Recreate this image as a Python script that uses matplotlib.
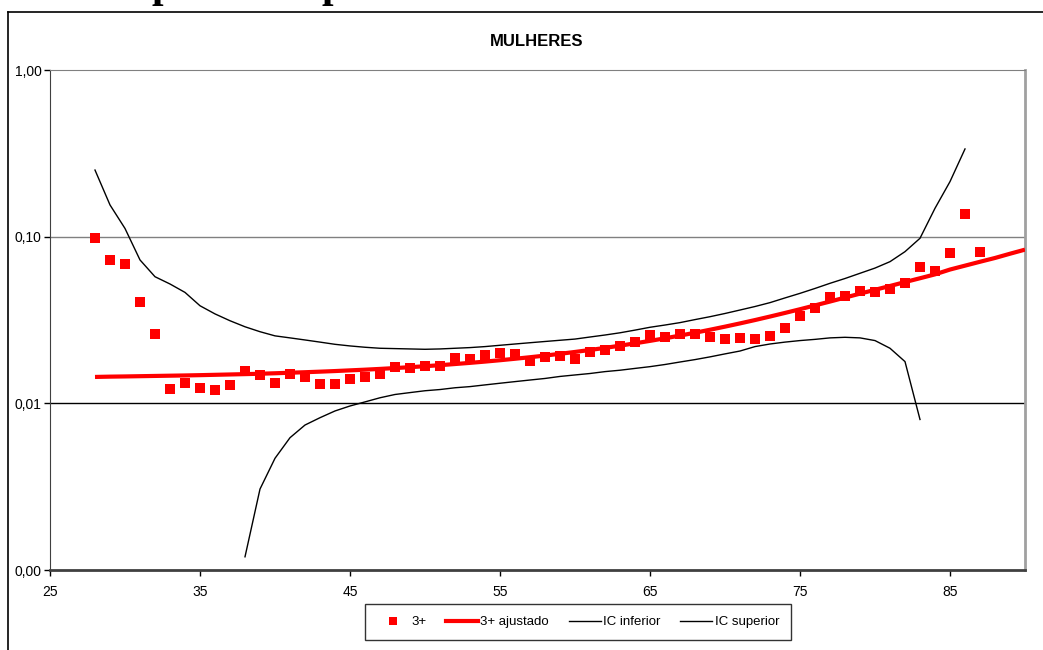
import matplotlib.pyplot as plt
from matplotlib.lines import Line2D
from matplotlib.ticker import FixedLocator, NullLocator

# Observed rates, ages 28-87
ages_obs = list(range(28, 88))
taxa_obs = [0.0986, 0.0725, 0.0683, 0.0407, 0.0262, 0.0122, 0.0132, 0.0124, 0.0121, 0.0129,
            0.0157, 0.0148, 0.0132, 0.0149, 0.0144, 0.0130, 0.0131, 0.0139, 0.0144, 0.0150,
            0.0166, 0.0163, 0.0167, 0.0168, 0.0188, 0.0184, 0.0194, 0.0200, 0.0198, 0.0180,
            0.0190, 0.0192, 0.0184, 0.0202, 0.0209, 0.0222, 0.0233, 0.0257, 0.0249, 0.0262,
            0.0261, 0.0249, 0.0242, 0.0247, 0.0243, 0.0254, 0.0283, 0.0334, 0.0373, 0.0434,
            0.0441, 0.0472, 0.0466, 0.0485, 0.0527, 0.0658, 0.0622, 0.0798, 0.1368, 0.0809]

# Fitted rates, ages 28-90
ages_fit = list(range(28, 91))
taxa_fit = [0.0144, 0.01446, 0.0145, 0.01455, 0.0146, 0.01465, 0.0147, 0.01476, 0.01483, 0.0149,
            0.01497, 0.01505, 0.01515, 0.01526, 0.01537, 0.01549, 0.01562, 0.01577, 0.01592, 0.01609,
            0.01628, 0.01648, 0.0167, 0.01694, 0.01721, 0.01749, 0.0178, 0.01814, 0.01851, 0.01891,
            0.01934, 0.01982, 0.02034, 0.0209, 0.02151, 0.02218, 0.02291, 0.0237, 0.02456, 0.0255,
            0.02652, 0.02764, 0.02885, 0.03017, 0.0316, 0.03317, 0.03487, 0.0367, 0.0387, 0.0408,
            0.0431, 0.0455, 0.0480, 0.0506, 0.0534, 0.0563, 0.0594, 0.0635, 0.0670, 0.0707,
            0.0745, 0.0790, 0.0836]

# Lower confidence bound, ages 38-83
ages_inf = list(range(38, 84))
ic_inf = [0.00120, 0.00306, 0.00468, 0.00622, 0.00741, 0.00820, 0.00900, 0.00964, 0.0102, 0.0108,
          0.0113, 0.0116, 0.0119, 0.0121, 0.0124, 0.0126, 0.0129, 0.0132, 0.0135, 0.0138,
          0.0141, 0.0145, 0.0148, 0.0151, 0.0155, 0.0158, 0.0162, 0.0166, 0.0171, 0.0177,
          0.0183, 0.0190, 0.0198, 0.0206, 0.0219, 0.0227, 0.0233, 0.0238, 0.0242, 0.0247,
          0.0249, 0.0247, 0.0238, 0.0214, 0.0178, 0.0080]

# Upper confidence bound, ages 28-86
ages_sup = list(range(28, 87))
ic_sup = [0.251, 0.155, 0.112, 0.0725, 0.0575, 0.0520, 0.0463, 0.0385, 0.0344, 0.0313,
          0.0288, 0.0269, 0.0254, 0.0247, 0.0240, 0.0233, 0.0226, 0.0221, 0.0217, 0.0214,
          0.0213, 0.0212, 0.0211, 0.0212, 0.0214, 0.0216, 0.0219, 0.0223, 0.0227, 0.0231,
          0.0235, 0.0239, 0.0243, 0.0250, 0.0257, 0.0265, 0.0275, 0.0286, 0.0295, 0.0305,
          0.0318, 0.0331, 0.0346, 0.0363, 0.0381, 0.0402, 0.0429, 0.0457, 0.0489, 0.0525,
          0.0561, 0.0603, 0.0648, 0.0708, 0.0813, 0.0978, 0.148, 0.214, 0.336]

x_ticks = [25, 35, 45, 55, 65, 75, 85]
y_ticks = [0.001, 0.01, 0.1, 1.0]
y_labels = ["0,00", "0,01", "0,10", "1,00"]

plt.rcParams['font.family'] = ['Liberation Sans', 'DejaVu Sans']

W, H = 1043, 650
fig = plt.figure(figsize=(W / 100, H / 100), dpi=100)
ax = fig.add_axes([50 / W, 1 - 570 / H, 975 / W, 500 / H])

ax.set_yscale('log')
ax.set_xlim(25, 90)
ax.set_ylim(0.001, 1.0)

# horizontal grid lines
ax.axhline(0.1, color='#808080', lw=1.0, zorder=1)
ax.axhline(0.01, color='black', lw=1.0, zorder=1)

ax.plot(ages_fit, taxa_fit, color='#ff0000', lw=3.0, zorder=3, solid_capstyle='butt')
ax.plot(ages_inf, ic_inf, color='black', lw=1.0, zorder=2)
ax.plot(ages_sup, ic_sup, color='black', lw=1.0, zorder=2)
ax.plot(ages_obs, taxa_obs, linestyle='none', marker='s', markersize=7,
        color='#ff0000', markeredgewidth=0, zorder=4)

ax.xaxis.set_major_locator(FixedLocator(x_ticks))
ax.yaxis.set_major_locator(FixedLocator(y_ticks))
ax.yaxis.set_minor_locator(NullLocator())
ax.set_yticklabels(y_labels)
ax.tick_params(axis='both', direction='out', length=4, width=1, labelsize=10, colors='black')
ax.tick_params(axis='x', pad=7)
ax.tick_params(axis='y', pad=2)

ax.spines['left'].set_color('#404040')
ax.spines['bottom'].set_color('#404040')
ax.spines['bottom'].set_linewidth(2.0)
ax.spines['top'].set_color('#808080')
ax.spines['right'].set_color('#a0a0a0')
ax.spines['right'].set_linewidth(2.0)

fig.text(537 / W, 1 - 42 / H, "MULHERES", ha='center', va='center',
         fontsize=12, fontweight='bold')

handles = [
    Line2D([], [], linestyle='none', marker='s', markersize=6, color='#ff0000', markeredgewidth=0),
    Line2D([], [], color='#ff0000', lw=3.0),
    Line2D([], [], color='black', lw=1.0),
    Line2D([], [], color='black', lw=1.0),
]
labels = ["3+", "3+ ajustado", "IC inferior", "IC superior"]
leg = fig.legend(handles, labels, loc='center', bbox_to_anchor=(578 / W, 1 - 622 / H),
                 ncol=4, frameon=True, fancybox=False, fontsize=9.5, handlelength=2.4,
                 handletextpad=0.2, columnspacing=1.5, borderpad=0.9, numpoints=1)
leg.get_frame().set_edgecolor('black')
leg.get_frame().set_linewidth(1.0)

# outer chart box (left and top edges, the rest runs past the figure)
fig.add_artist(Line2D([8 / W, 8 / W], [0, 1 - 12 / H], color='black', lw=1.2))
fig.add_artist(Line2D([8 / W, 1], [1 - 12 / H, 1 - 12 / H], color='black', lw=1.2))

# heading line above the box, mostly past the top edge
for xp in (163, 333):
    fig.text(xp / W, 1 + 3 / H, "p", ha='center', va='baseline', fontsize=30,
             fontweight='bold', family='Liberation Serif')

fig.savefig("out.png", dpi=100)
